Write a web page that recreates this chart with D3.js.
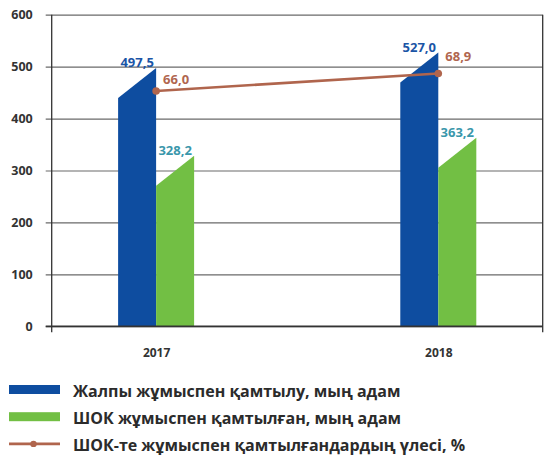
<!DOCTYPE html>
<html>
<head>
<meta charset="utf-8">
<script src="https://cdn.jsdelivr.net/npm/d3@7"></script>
<style>
  body { margin: 0; background: #fff; }
  svg { display: block; font-family: "Open Sans", sans-serif; }
</style>
</head>
<body>
<div id="chart"></div>
<script>
// data
const years = ["2017", "2018"];
const totalEmployed = [497.5, 527.0];     // Жалпы жұмыспен қамтылу, мың адам
const smeEmployed = [328.2, 363.2];       // ШОК жұмыспен қамтылған, мың адам
const smeShare = [66.0, 68.9];            // ШОК-те ... үлесі, %
const yTicks = [0, 100, 200, 300, 400, 500, 600];
const legendLabels = [
  "Жалпы жұмыспен қамтылу, мың адам",
  "ШОК жұмыспен қамтылған, мың адам",
  "ШОК-те жұмыспен қамтылғандардың үлесі, %"
];

const width = 546, height = 455;
const margin = { top: 14.7, right: 3.3, bottom: 128.7, left: 51.7 };
const blue = "#0e4da0", green = "#72bf44", brown = "#b0654d";
const barW = 38, slant = 30;
const fmt = v => d3.format(".1f")(v).replace(".", ",");

const svg = d3.select("#chart").append("svg")
  .attr("width", width)
  .attr("height", height);

const x = d3.scalePoint()
  .domain(years)
  .range([margin.left, width - margin.right])
  .padding(0.37);

const y = d3.scaleLinear()
  .domain([0, 600])
  .range([height - margin.bottom, margin.top]);

// share line sits on a hidden secondary scale
const y2 = d3.scaleLinear()
  .domain([26.8, 78.7])
  .range([height - margin.bottom, margin.top]);

const x0 = margin.left, x1 = width - margin.right;

// gridlines
svg.append("g")
  .attr("class", "grid")
  .attr("transform", `translate(${x0 - 6},0)`)
  .call(d3.axisRight(y).tickValues(yTicks).tickSize(x1 - x0 + 6).tickFormat(""))
  .call(g => g.select(".domain").remove())
  .call(g => g.selectAll("line").attr("stroke", "#6a6a6a").attr("stroke-width", 1.2));

// left axis labels
svg.append("g")
  .attr("transform", `translate(${x0},0)`)
  .call(d3.axisLeft(y).tickValues(yTicks).tickSize(0).tickPadding(19))
  .call(g => g.select(".domain").remove())
  .call(g => g.selectAll("text")
    .attr("font-family", "Open Sans")
    .attr("font-weight", 700)
    .attr("font-size", 12.5)
    .attr("fill", "#333"));

// frame: left, right verticals
[x0, x1].forEach(xx => {
  svg.append("line")
    .attr("x1", xx).attr("x2", xx)
    .attr("y1", y(600)).attr("y2", y(0) + 6)
    .attr("stroke", "#333").attr("stroke-width", 1.3);
});

// bars with slanted tops
function barPath(xl, v) {
  const top = y(v), base = y(0);
  return `M${xl},${base}L${xl},${top + slant}L${xl + barW},${top}L${xl + barW},${base}Z`;
}

svg.append("g")
  .selectAll("path")
  .data(years)
  .join("path")
  .attr("d", (d, i) => barPath(x(d) - barW, totalEmployed[i]))
  .attr("fill", blue);

svg.append("g")
  .selectAll("path")
  .data(years)
  .join("path")
  .attr("d", (d, i) => barPath(x(d), smeEmployed[i]))
  .attr("fill", green);

// bottom axis
svg.append("g")
  .attr("transform", `translate(0,${y(0)})`)
  .call(d3.axisBottom(x).tickSize(0).tickPadding(22))
  .call(g => g.select(".domain").remove())
  .call(g => g.selectAll("text")
    .attr("font-family", "Open Sans")
    .attr("font-weight", 700)
    .attr("font-size", 12)
    .attr("fill", "#333"));

svg.append("line")
  .attr("x1", x0 - 6).attr("x2", x1)
  .attr("y1", y(0)).attr("y2", y(0))
  .attr("stroke", "#333").attr("stroke-width", 1.4);

// value labels
const valueFont = g => g
  .attr("font-family", "Open Sans")
  .attr("font-weight", 700)
  .attr("font-size", 13)
  .attr("text-anchor", "middle");

svg.append("g").selectAll("text")
  .data(years)
  .join("text")
  .attr("x", d => x(d) - barW / 2)
  .attr("y", (d, i) => y(totalEmployed[i]) - 1)
  .attr("fill", "#1b55a6")
  .call(valueFont)
  .text((d, i) => fmt(totalEmployed[i]));

svg.append("g").selectAll("text")
  .data(years)
  .join("text")
  .attr("x", d => x(d) + barW / 2)
  .attr("y", (d, i) => y(smeEmployed[i]) - 1)
  .attr("fill", "#3a97ab")
  .call(valueFont)
  .text((d, i) => fmt(smeEmployed[i]));

// share line
const line = d3.line()
  .x((d, i) => x(years[i]))
  .y(d => y2(d));

svg.append("path")
  .datum(smeShare)
  .attr("d", line)
  .attr("fill", "none")
  .attr("stroke", brown)
  .attr("stroke-width", 2.6);

svg.append("g").selectAll("circle")
  .data(smeShare)
  .join("circle")
  .attr("cx", (d, i) => x(years[i]))
  .attr("cy", d => y2(d))
  .attr("r", 3.8)
  .attr("fill", brown);

const shareLabelDy = [-6.5, -13];
svg.append("g").selectAll("text")
  .data(smeShare)
  .join("text")
  .attr("x", (d, i) => x(years[i]) + 7)
  .attr("y", (d, i) => y2(d) + shareLabelDy[i])
  .attr("fill", "#b0664f")
  .call(valueFont)
  .attr("text-anchor", "start")
  .text(d => fmt(d));

// legend
const legend = svg.append("g").attr("transform", "translate(9,389.5)");
const rowH = 27.2;
legendLabels.forEach((label, i) => {
  const g = legend.append("g").attr("transform", `translate(0,${i * rowH})`);
  if (i < 2) {
    g.append("rect")
      .attr("x", 0).attr("y", -4.5)
      .attr("width", 51).attr("height", 9)
      .attr("fill", i === 0 ? blue : green);
  } else {
    g.append("line")
      .attr("x1", 0).attr("x2", 51)
      .attr("y1", 0).attr("y2", 0)
      .attr("stroke", brown).attr("stroke-width", 2.6);
    g.append("circle")
      .attr("cx", 24.5).attr("cy", 0).attr("r", 3.2)
      .attr("fill", brown);
  }
  g.append("text")
    .attr("x", 64)
    .attr("y", 7)
    .attr("font-family", "Open Sans")
    .attr("font-weight", 700)
    .attr("font-size", 16)
    .attr("fill", "#2b2b2b")
    .text(label);
});
</script>
</body>
</html>
